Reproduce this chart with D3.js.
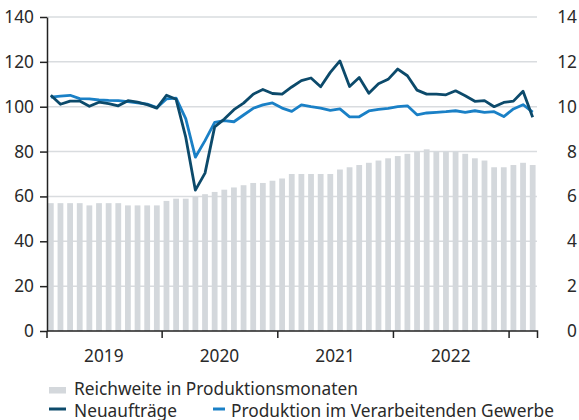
<!DOCTYPE html>
<html>
<head>
<meta charset="utf-8">
<script src="https://cdn.jsdelivr.net/npm/d3@7"></script>
<style>
  body { margin: 0; background: #fff; }
  text { font-family: "Noto Sans", sans-serif; fill: #2a2a2a; }
</style>
</head>
<body>
<div id="chart"></div>
<script>
const colors = { bar: '#d4d8dc', neu: '#0c4a6b', prod: '#1a80c6', grid: '#d9dcdf', axis: '#222' }
const fs = '17.3px';

const width = 579, height = 420;
const margin = { left: 47, right: 537, top: 17, bottom: 331 };

// Jan 2019 .. Mar 2023, one value per month
const years = ['2019', '2020', '2021', '2022'];
const reichweite = [5.7, 5.7, 5.7, 5.7, 5.6, 5.7, 5.7, 5.7, 5.6, 5.6, 5.6, 5.6,
                    5.8, 5.9, 5.9, 6.0, 6.1, 6.2, 6.3, 6.4, 6.5, 6.6, 6.6, 6.7,
                    6.8, 7.0, 7.0, 7.0, 7.0, 7.0, 7.2, 7.3, 7.4, 7.5, 7.6, 7.7,
                    7.8, 7.9, 8.0, 8.1, 8.0, 8.0, 8.0, 7.9, 7.7, 7.6, 7.3, 7.3,
                    7.4, 7.5, 7.4];
const neuauftraege = [105.1, 101.1, 102.5, 102.5, 100.2, 102.0, 101.4, 100.4, 102.7, 102.0, 100.9, 99.4,
                      105.1, 103.3, 86.4, 62.8, 70.4, 91.0, 94.5, 98.7, 101.6, 105.6, 107.7, 105.9,
                      105.6, 108.8, 111.6, 112.8, 108.9, 115.3, 120.4, 109.0, 113.0, 106.0, 110.2, 112.2,
                      116.8, 113.8, 107.4, 105.6, 105.6, 105.3, 107.1, 104.9, 102.4, 102.7, 100.0, 101.9,
                      102.5, 106.9, 95.3];
const produktion = [104.3, 104.7, 105.1, 103.6, 103.5, 103.0, 102.8, 102.7, 102.3, 101.7, 101.2, 99.6,
                    103.5, 103.8, 94.7, 77.5, 84.9, 93.0, 93.8, 93.3, 96.3, 99.3, 100.8, 101.7,
                    99.4, 97.9, 100.8, 100.0, 99.4, 98.4, 99.0, 95.5, 95.5, 98.1, 98.8, 99.3,
                    100.0, 100.4, 96.4, 97.2, 97.5, 97.8, 98.2, 97.5, 98.2, 97.5, 97.8, 95.6,
                    99.0, 100.9, 97.6];
const leftTicks = [0, 20, 40, 60, 80, 100, 120, 140];
const rightTicks = [0, 2, 4, 6, 8, 10, 12, 14];

const n = reichweite.length;
const x = d3.scaleLinear().domain([0, n]).range([46, 537.5]);
const y = d3.scaleLinear().domain([0, 140]).range([margin.bottom, margin.top]);
const y2 = d3.scaleLinear().domain([0, 14]).range([margin.bottom, margin.top]);
const step = x(1) - x(0);
const mid = i => x(i + 0.5);

const svg = d3.select('#chart').append('svg')
    .attr('width', width).attr('height', height);

// grid
svg.append('g').selectAll('line').data(leftTicks.slice(1)).enter().append('line')
    .attr('x1', margin.left).attr('x2', margin.right)
    .attr('y1', d => y(d)).attr('y2', d => y(d))
    .attr('stroke', colors.grid).attr('stroke-width', 1.5);

// bars (right axis)
const barW = step * 0.6;
svg.append('g').selectAll('rect').data(reichweite).enter().append('rect')
    .attr('x', (d, i) => Math.max(mid(i) - barW / 2, margin.left + 0.5))
    .attr('width', (d, i) => mid(i) + barW / 2 - Math.max(mid(i) - barW / 2, margin.left + 0.5))
    .attr('y', d => y2(d))
    .attr('height', d => y2(0) - y2(d))
    .attr('fill', colors.bar);

// lines
const line = d3.line().x((d, i) => mid(i)).y(d => y(d));
svg.append('path').datum(produktion)
    .attr('d', line).attr('fill', 'none')
    .attr('stroke', colors.prod).attr('stroke-width', 2.8).attr('stroke-linejoin', 'round');
svg.append('path').datum(neuauftraege)
    .attr('d', line).attr('fill', 'none')
    .attr('stroke', colors.neu).attr('stroke-width', 2.8).attr('stroke-linejoin', 'round');

// left axis
const gl = svg.append('g').attr('transform', `translate(${margin.left},0)`)
    .call(d3.axisLeft(y).tickValues(leftTicks).tickSize(7).tickPadding(6).tickSizeOuter(0));
gl.select('.domain').attr('stroke', colors.axis).attr('stroke-width', 1.5);
gl.selectAll('.tick line').attr('stroke', colors.axis).attr('stroke-width', 1.5);
gl.selectAll('text').style('font-size', fs).style('font-family', '"Noto Sans", sans-serif').attr('fill', '#2a2a2a');

// right axis labels
svg.append('g').selectAll('text').data(rightTicks).enter().append('text')
    .attr('x', 577).attr('y', d => y2(d)).attr('dy', '0.35em')
    .attr('text-anchor', 'end').style('font-size', fs)
    .text(d => d);

// bottom axis
const gb = svg.append('g').attr('transform', `translate(0,${margin.bottom})`)
    .call(d3.axisBottom(x).tickValues([12, 24, 36, 48]).tickSize(7).tickFormat(''));
gb.select('.domain').attr('d', `M${margin.left},0H${x(n)}V7M${margin.left},0V7`)
    .attr('stroke', colors.axis).attr('stroke-width', 1.5);
gb.selectAll('.tick line').attr('stroke', colors.axis).attr('stroke-width', 1.5);

svg.append('g').selectAll('text').data(years).enter().append('text')
    .attr('x', (d, i) => x(i * 12 + 6)).attr('y', 361.5)
    .attr('text-anchor', 'middle').style('font-size', fs)
    .text(d => d);

// legend
const lg = svg.append('g');
lg.append('rect').attr('x', 49).attr('y', 387).attr('width', 17).attr('height', 6.5).attr('fill', colors.bar);
lg.append('text').attr('x', 74).attr('y', 394.5).style('font-size', fs).text('Reichweite in Produktionsmonaten');
lg.append('line').attr('x1', 49).attr('x2', 66).attr('y1', 409).attr('y2', 409)
    .attr('stroke', colors.neu).attr('stroke-width', 3);
lg.append('text').attr('x', 74).attr('y', 416.5).style('font-size', fs).text('Neuaufträge');
lg.append('line').attr('x1', 213).attr('x2', 225).attr('y1', 409).attr('y2', 409)
    .attr('stroke', colors.prod).attr('stroke-width', 3);
lg.append('text').attr('x', 231).attr('y', 416.5).style('font-size', fs).text('Produktion im Verarbeitenden Gewerbe');
</script>
</body>
</html>
